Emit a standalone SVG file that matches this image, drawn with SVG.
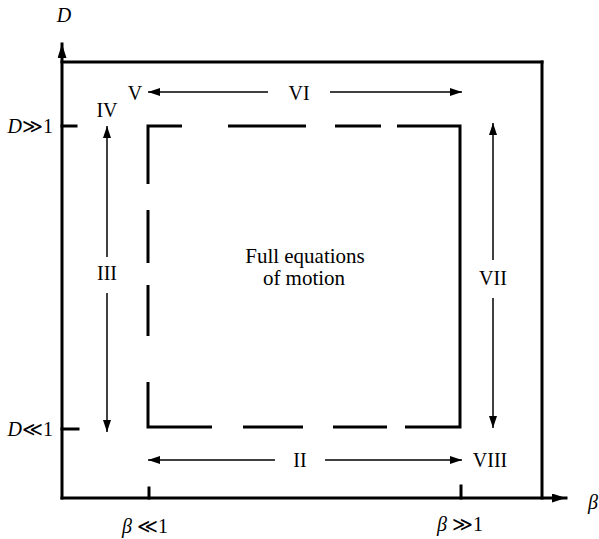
<svg xmlns="http://www.w3.org/2000/svg" width="599" height="539" viewBox="0 0 599 539">
<defs>
<marker id="ah" viewBox="0 0 12 8" refX="12" refY="4" markerWidth="12" markerHeight="8" markerUnits="userSpaceOnUse" orient="auto">
<path d="M0,0 L12,4 L0,8 Z" fill="#000"/>
</marker>
<marker id="ahBig" viewBox="0 0 14 9" refX="14" refY="4.5" markerWidth="14" markerHeight="9" markerUnits="userSpaceOnUse" orient="auto">
<path d="M0,0 L14,4.5 L0,9 Z" fill="#000"/>
</marker>
</defs>
<style>
.frame{fill:none;stroke:#000;stroke-width:3;stroke-linecap:square}
.inner{fill:none;stroke:#000;stroke-width:3;stroke-linecap:butt;stroke-linejoin:miter}
.arr{fill:none;stroke:#000;stroke-width:1.5}
.t{font-family:"Liberation Serif","Times New Roman",serif;font-size:20px;fill:#000}
.big{font-size:21px}
.i{font-style:italic}
</style>
<rect width="599" height="539" fill="#fff"/>
<g id="axes">
<line class="frame" x1="62" y1="498" x2="62" y2="44" marker-end="url(#ahBig)"/>
<line class="frame" x1="62" y1="498" x2="566" y2="498" marker-end="url(#ahBig)"/>
<line class="frame" x1="62" y1="62" x2="542" y2="62"/>
<line class="frame" x1="542" y1="62" x2="542" y2="498"/>
<line class="frame" x1="62" y1="126" x2="76" y2="126"/>
<line class="frame" x1="62" y1="429" x2="78" y2="429"/>
<line class="frame" x1="149" y1="488" x2="149" y2="498"/>
<line class="frame" x1="461" y1="486" x2="461" y2="498"/>
<text class="t i" x="64" y="22" text-anchor="middle">D</text>
<text class="t i" x="588" y="509">β</text>
<text class="t" x="53" y="133" text-anchor="end"><tspan class="i">D</tspan>≫1</text>
<text class="t" x="53" y="436" text-anchor="end"><tspan class="i">D</tspan>≪1</text>
<text class="t" x="122" y="533"><tspan class="i">β</tspan> ≪1</text>
<text class="t" x="437" y="531"><tspan class="i">β</tspan> ≫1</text>
</g>
<g id="full-equations">
<path class="inner" d="M148,184 V126 H182 M228,126 H306 M335,126 H381 M397,126 H460 V427 H405 M387,427 H333 M303,427 H243 M212,427 H148 V382 M148,336 V285 M148,263 V210"/>
<text class="t big" x="305" y="263" text-anchor="middle">Full equations</text>
<text class="t big" x="304" y="285" text-anchor="middle">of motion</text>
</g>
<g id="regions">
<text class="t" x="135" y="100" text-anchor="middle">V</text>
<text class="t" x="299" y="100" text-anchor="middle">VI</text>
<text class="t" x="107" y="117" text-anchor="middle">IV</text>
<text class="t" x="107" y="280" text-anchor="middle">III</text>
<text class="t" x="493" y="285" text-anchor="middle">VII</text>
<text class="t" x="300" y="467" text-anchor="middle">II</text>
<text class="t" x="490" y="467" text-anchor="middle">VIII</text>
</g>
<g id="connectors">
<line class="arr" x1="268" y1="92" x2="148" y2="92" marker-end="url(#ah)"/>
<line class="arr" x1="330" y1="92" x2="462" y2="92" marker-end="url(#ah)"/>
<line class="arr" x1="107" y1="257" x2="107" y2="126" marker-end="url(#ah)"/>
<line class="arr" x1="107" y1="293" x2="107" y2="432" marker-end="url(#ah)"/>
<line class="arr" x1="493" y1="260" x2="493" y2="123" marker-end="url(#ah)"/>
<line class="arr" x1="493" y1="298" x2="493" y2="428" marker-end="url(#ah)"/>
<line class="arr" x1="275" y1="460" x2="148" y2="460" marker-end="url(#ah)"/>
<line class="arr" x1="325" y1="460" x2="462" y2="460" marker-end="url(#ah)"/>
</g>
</svg>
